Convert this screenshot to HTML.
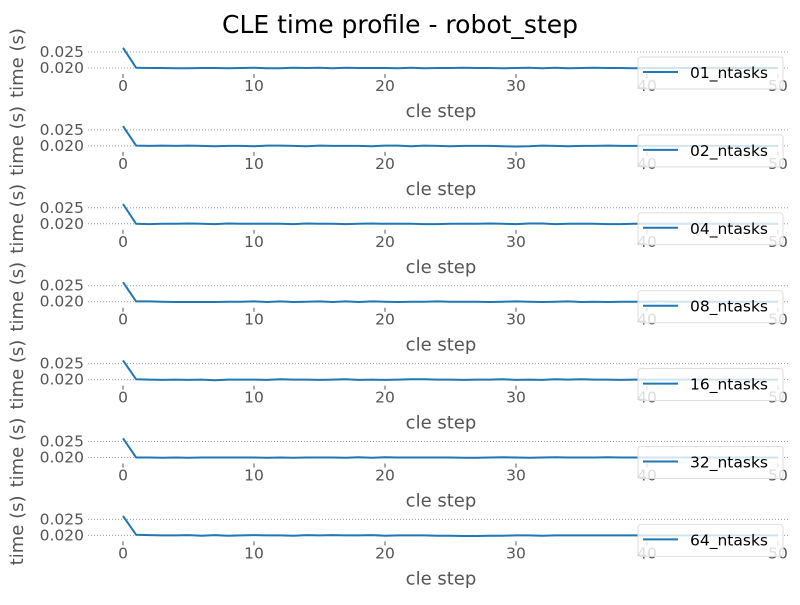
<!DOCTYPE html>
<html><head><meta charset="utf-8"><style>
body{margin:0;background:#fff;}
svg text{font-family:"DejaVu Sans","Liberation Sans",sans-serif;}
</style></head><body>
<svg id="chart" width="800" height="600" xmlns="http://www.w3.org/2000/svg">
<text x="400" y="33" font-size="25" text-anchor="middle" fill="#000">CLE time profile - robot_step</text>
</svg>
<script>
const seriesNames = ["01_ntasks","02_ntasks","04_ntasks","08_ntasks","16_ntasks","32_ntasks","64_ntasks"];
const xTicks = [0,10,20,30,40,50];
const yTicks = [0.020,0.025];
const s01 = [0.0263,0.0201,0.0200,0.0200,0.0199,0.0199,0.0200,0.0200,0.0199,0.0200,0.0201,0.0199,0.0199,0.0201,0.0200,0.0201,0.0199,0.0201,0.0200,0.0200,0.0200,0.0199,0.0201,0.0199,0.0200,0.0200,0.0201,0.0200,0.0200,0.0199,0.0200,0.0201,0.0199,0.0201,0.0199,0.0200,0.0201,0.0200,0.0200,0.0199,0.0200,0.0200,0.0200,0.0200,0.0200,0.0201,0.0200,0.0200,0.0200,0.0200,0.0200];
const s02 = [0.0262,0.0201,0.0200,0.0201,0.0200,0.0201,0.0200,0.0199,0.0200,0.0200,0.0199,0.0201,0.0201,0.0200,0.0199,0.0201,0.0200,0.0200,0.0200,0.0199,0.0201,0.0201,0.0199,0.0201,0.0200,0.0199,0.0200,0.0200,0.0200,0.0199,0.0198,0.0199,0.0201,0.0200,0.0199,0.0200,0.0200,0.0201,0.0200,0.0200,0.0200,0.0200,0.0200,0.0200,0.0200,0.0200,0.0200,0.0200,0.0200,0.0200,0.0200];
const s04 = [0.0262,0.0200,0.0199,0.0200,0.0200,0.0201,0.0200,0.0199,0.0201,0.0200,0.0200,0.0200,0.0200,0.0199,0.0201,0.0200,0.0200,0.0199,0.0200,0.0201,0.0200,0.0200,0.0200,0.0199,0.0199,0.0200,0.0200,0.0200,0.0201,0.0200,0.0199,0.0201,0.0201,0.0199,0.0200,0.0200,0.0200,0.0199,0.0199,0.0200,0.0200,0.0200,0.0200,0.0200,0.0200,0.0200,0.0200,0.0200,0.0200,0.0200,0.0200];
const s08 = [0.0261,0.0201,0.0201,0.0200,0.0199,0.0199,0.0199,0.0199,0.0200,0.0200,0.0201,0.0199,0.0201,0.0199,0.0200,0.0201,0.0199,0.0201,0.0199,0.0201,0.0200,0.0199,0.0200,0.0200,0.0201,0.0200,0.0200,0.0200,0.0199,0.0200,0.0201,0.0200,0.0199,0.0200,0.0201,0.0199,0.0200,0.0199,0.0200,0.0200,0.0200,0.0201,0.0200,0.0200,0.0200,0.0200,0.0200,0.0200,0.0200,0.0200,0.0200];
const s16 = [0.0260,0.0201,0.0200,0.0199,0.0200,0.0199,0.0200,0.0198,0.0200,0.0200,0.0200,0.0199,0.0201,0.0200,0.0200,0.0199,0.0200,0.0201,0.0199,0.0200,0.0199,0.0200,0.0201,0.0201,0.0200,0.0200,0.0199,0.0200,0.0200,0.0201,0.0199,0.0200,0.0199,0.0201,0.0200,0.0201,0.0200,0.0200,0.0199,0.0200,0.0200,0.0200,0.0200,0.0200,0.0200,0.0200,0.0200,0.0200,0.0200,0.0200,0.0200];
const s32 = [0.0260,0.0200,0.0200,0.0199,0.0200,0.0199,0.0200,0.0200,0.0200,0.0200,0.0200,0.0199,0.0200,0.0199,0.0200,0.0200,0.0200,0.0199,0.0201,0.0199,0.0201,0.0200,0.0200,0.0200,0.0200,0.0200,0.0199,0.0199,0.0200,0.0201,0.0200,0.0199,0.0200,0.0201,0.0200,0.0200,0.0200,0.0201,0.0200,0.0200,0.0200,0.0200,0.0200,0.0200,0.0200,0.0200,0.0200,0.0200,0.0200,0.0200,0.0200];
const s64 = [0.0261,0.0202,0.0201,0.0200,0.0200,0.0201,0.0199,0.0201,0.0199,0.0200,0.0201,0.0200,0.0200,0.0199,0.0201,0.0200,0.0201,0.0200,0.0200,0.0201,0.0199,0.0200,0.0200,0.0200,0.0199,0.0199,0.0198,0.0198,0.0199,0.0199,0.0200,0.0200,0.0199,0.0200,0.0200,0.0200,0.0200,0.0200,0.0200,0.0200,0.0200,0.0200,0.0200,0.0200,0.0200,0.0200,0.0200,0.0200,0.0200,0.0200,0.0200];
const allSeries = [s01,s02,s04,s08,s16,s32,s64];

const svg = document.getElementById('chart');
const NS = 'http://www.w3.org/2000/svg';
function mk(tag, attrs, parent){const e=document.createElementNS(NS,tag);for(const k in attrs)e.setAttribute(k,attrs[k]);(parent||svg).appendChild(e);return e;}
const xScale = v => 123 + v*13.1;
function yScale(panel, v){ return 68 + panel*77.9 - (v-0.020)*3200; }

allSeries.forEach((data, p) => {
  const g = mk('g', {});
  
  
  yTicks.forEach(t => {
    const y = yScale(p, t);
    const gl = mk('line', {x1:88,x2:790,y1:y,y2:y,stroke:'#999','stroke-width':1,'stroke-dasharray':'1,2'}, g);
    
    
    const tl = mk('text', {x:84,y:y+5,'font-size':15.5,'text-anchor':'end',fill:'#555'}, g);
    tl.textContent = t.toFixed(3);
    
    
  });
  const base = yScale(p, 0.020);
  xTicks.forEach(t => {
    const x = xScale(t);
    mk('line', {x1:x,x2:x,y1:base+6,y2:base+10,stroke:'#555','stroke-width':1}, g);
    const tl = mk('text', {x:x,y:base+23,'font-size':15.5,'text-anchor':'middle',fill:'#555'}, g);
    tl.textContent = t;
    
    
  });
  const xl = mk('text', {x:441,y:base+49,'font-size':18,'text-anchor':'middle',fill:'#555'}, g);
  xl.textContent = 'cle step';
  
  
  const cy = base - 5;
  const yl = mk('text', {x:0,y:0,'font-size':18,'text-anchor':'middle',fill:'#555',transform:`translate(23,${cy}) rotate(-90)`}, g);
  yl.textContent = 'time (s)';
  
  
  const pts = data.map((v,i) => xScale(i).toFixed(1)+','+yScale(p,v).toFixed(1)).join(' ');
  const line = mk('polyline', {points:pts,fill:'none',stroke:'#1f77b4','stroke-width':2}, g);
  
  
  const lg = mk('g', {}, g);
  
  
  mk('rect', {x:638,y:base-11,width:145,height:32,rx:3,fill:'rgba(255,255,255,0.8)',stroke:'#ddd'}, lg);
  mk('line', {x1:643,x2:678,y1:base+4,y2:base+4,stroke:'#1f77b4','stroke-width':2}, lg);
  const lt = mk('text', {x:690,y:base+10,'font-size':15.5,fill:'#000'}, lg);
  lt.textContent = seriesNames[p];
  
  
});
</script>
</body></html>
